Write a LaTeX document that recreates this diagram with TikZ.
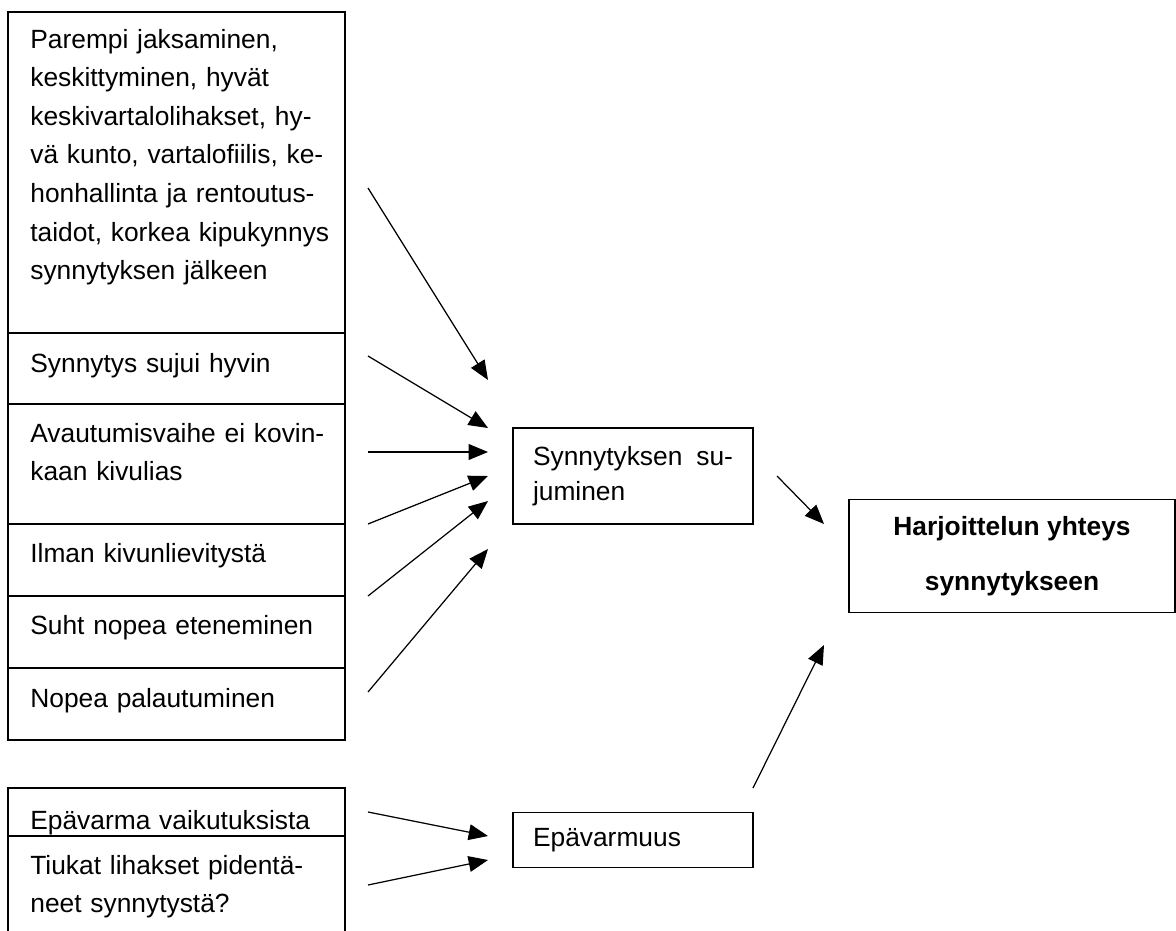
\documentclass[tikz,border=0pt]{standalone}
\usepackage{fontspec}
\setmainfont{Liberation Sans}
\usetikzlibrary{arrows.meta, positioning, calc}

\begin{document}
\begin{tikzpicture}[
    x=0.02cm, y=-0.02cm,
    % Define node styles
    cell/.style={rectangle, draw, line width=0.9pt, outer sep=0pt, inner sep=0pt, minimum width=6.74cm, anchor=north west},
    txt/.style={anchor=base west, inner sep=0pt, text width=6.2cm, align=left, font=\fontsize{15}{22}\selectfont},
    box/.style={rectangle, draw, line width=0.9pt, text width=4cm, inner xsep=0.4cm, minimum width=4.8cm, align=left, font=\fontsize{15}{20}\selectfont},
    goal/.style={rectangle, draw, line width=0.9pt, minimum width=6.52cm, minimum height=2.26cm, align=center, font=\fontsize{15}{31}\selectfont\bfseries},
    % Define edge style
    edge/.style={-{Triangle[length=11pt, width=9pt]}, line width=0.7pt},
]

% Page frame
\clip (0,0) rectangle (1176,930);

% Left column of factors
\node[cell, minimum height=6.42cm] (parempi) at (8,12) {};
\node[cell, minimum height=1.42cm, below=0pt of parempi] (sujui) {};
\node[cell, minimum height=2.40cm, below=0pt of sujui] (avaus) {};
\node[cell, minimum height=1.44cm, below=0pt of avaus] (ilman) {};
\node[cell, minimum height=1.44cm, below=0pt of ilman] (suht) {};
\node[cell, minimum height=1.44cm, below=0pt of suht] (palautus) {};

\node[txt] (tparempi) at (30,48) {Parempi jaksaminen,\\keskittyminen, hyvät\\keskivartalolihakset, hy-\\vä kunto, vartalofiilis, ke-\\honhallinta ja rentoutus-\\taidot, korkea kipukynnys\\synnytyksen jälkeen};
\node[txt] (tsujui) at (30,372) {Synnytys sujui hyvin};
\node[txt] (tavaus) at (30,442) {Avautumisvaihe ei kovin-\\kaan kivulias};
\node[txt] (tilman) at (30,562) {Ilman kivunlievitystä};
\node[txt] (tsuht) at (30,634) {Suht nopea eteneminen};
\node[txt] (tpalautus) at (30,707) {Nopea palautuminen};

% Lower column of doubts
\node[cell, minimum height=0.96cm] (epavarma) at (8,788) {};
\node[cell, minimum height=3cm, below=0pt of epavarma] (tiukat) {};

\node[txt] (tepavarma) at (30,829) {Epävarma vaikutuksista};
\node[txt] (ttiukat) at (30,874) {Tiukat lihakset pidentä-\\neet synnytystä?};

% Middle and right boxes
\node[box, minimum height=1.92cm] (sujuminen) at (633,476) {Synnytyksen \hfill su-\\juminen};
\node[box, minimum height=1.1cm] (epavarmuus) at (633,840) {Epävarmuus};
\node[goal] (yhteys) at (1012,556) {Harjoittelun yhteys\\synnytykseen};

% Arrows into the middle box
\foreach \ys/\ye [count=\i] in {188/380, 356/428, 452/452, 524/476, 596/501, 692/549} {
    \coordinate (from\i) at (368,\ys);
    \coordinate (to\i) at (488,\ye);
    \draw[edge] (from\i) -- (to\i);
}

% Arrows into Epävarmuus
\coordinate (fromA) at (368,812);
\coordinate (toA) at (488,836);
\coordinate (fromB) at (368,885);
\coordinate (toB) at (488,860);
\draw[edge] (fromA) -- (toA);
\draw[edge] (fromB) -- (toB);

% Arrows into the goal
\coordinate (fromS) at (777,476);
\coordinate (toS) at (824,524);
\coordinate (fromE) at (753,788);
\coordinate (toE) at (824,645);
\draw[edge] (fromS) -- (toS);
\draw[edge] (fromE) -- (toE);

\end{tikzpicture}
\end{document}
